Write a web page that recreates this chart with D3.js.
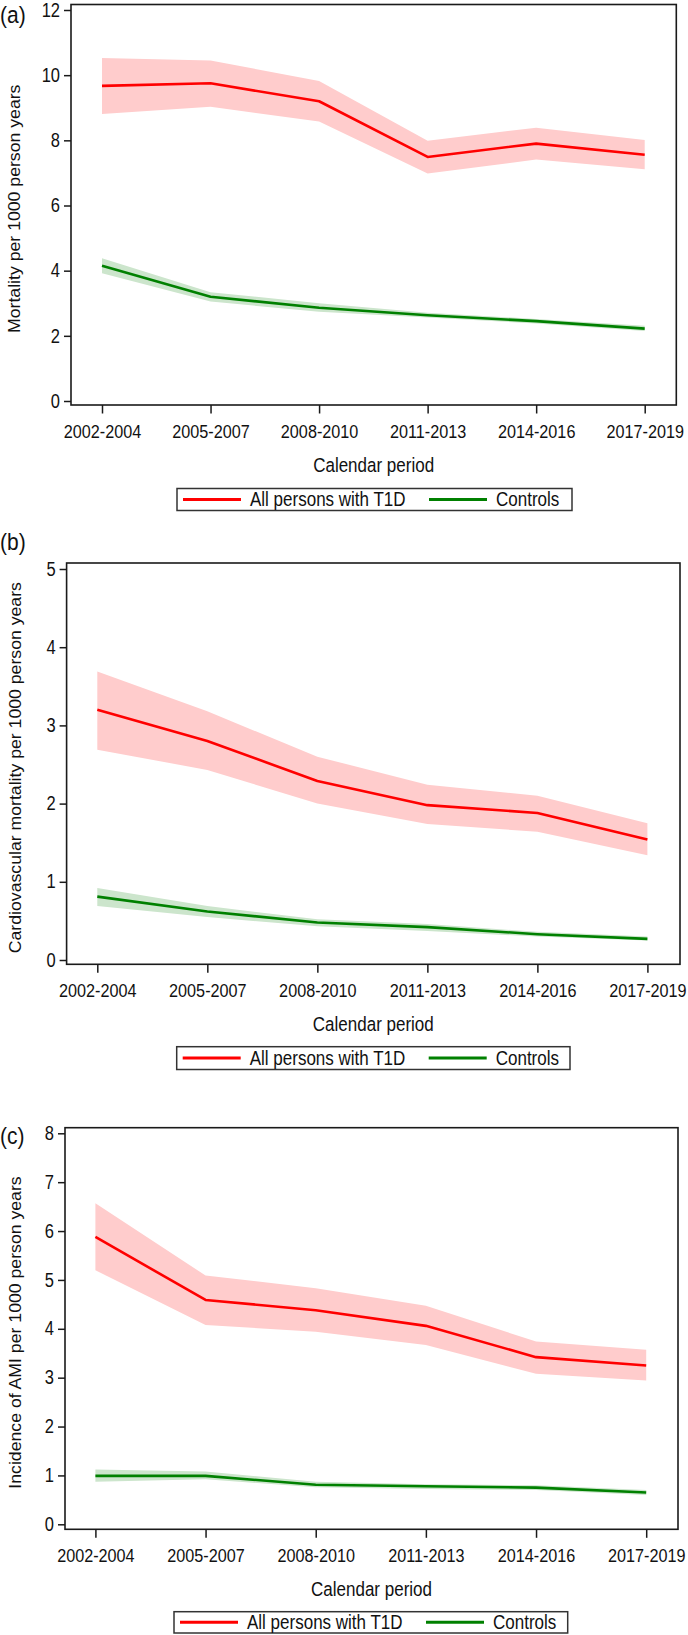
<!DOCTYPE html>
<html>
<head>
<meta charset="utf-8">
<script src="https://cdn.jsdelivr.net/npm/d3@7"></script>
<style>
  html, body { margin: 0; padding: 0; background: #fff; }
  svg { display: block; }
  text { font-family: "Liberation Sans", Arial, sans-serif; fill: #111; }
</style>
</head>
<body>
<svg id="chart" width="688" height="1635"></svg>
<script>
// ---------- DATA ----------
const periods = ["2002-2004", "2005-2007", "2008-2010", "2011-2013", "2014-2016", "2017-2019"];
const seriesNames = ["All persons with T1D", "Controls"];

// (a) All-cause mortality per 1000 person years
const aTicks = [0, 2, 4, 6, 8, 10, 12];
const aT1D    = [9.67, 9.75, 9.20, 7.49, 7.90, 7.56];
const aT1DLo  = [8.81, 9.03, 8.58, 6.98, 7.41, 7.11];
const aT1DHi  = [10.53, 10.45, 9.82, 7.99, 8.39, 8.01];
const aCtrl   = [4.15, 3.20, 2.86, 2.63, 2.45, 2.22];
const aCtrlLo = [3.92, 3.05, 2.74, 2.56, 2.38, 2.15];
const aCtrlHi = [4.38, 3.34, 3.00, 2.71, 2.52, 2.31];

// (b) Cardiovascular mortality per 1000 person years
const bTicks = [0, 1, 2, 3, 4, 5];
const bT1D    = [3.20, 2.80, 2.29, 1.98, 1.88, 1.54];
const bT1DLo  = [2.69, 2.43, 2.00, 1.74, 1.64, 1.34];
const bT1DHi  = [3.69, 3.18, 2.60, 2.24, 2.10, 1.75];
const bCtrl   = [0.81, 0.62, 0.48, 0.42, 0.33, 0.27];
const bCtrlLo = [0.69, 0.55, 0.43, 0.37, 0.30, 0.25];
const bCtrlHi = [0.92, 0.69, 0.52, 0.46, 0.36, 0.30];

// (c) Incidence of AMI per 1000 person years
const cTicks = [0, 1, 2, 3, 4, 5, 6, 7, 8];
const cT1D    = [5.88, 4.59, 4.38, 4.06, 3.42, 3.25];
const cT1DLo  = [5.20, 4.08, 3.94, 3.67, 3.08, 2.94];
const cT1DHi  = [6.57, 5.09, 4.83, 4.47, 3.74, 3.57];
const cCtrl   = [0.99, 0.99, 0.81, 0.78, 0.75, 0.65];
const cCtrlLo = [0.87, 0.92, 0.76, 0.72, 0.70, 0.60];
const cCtrlHi = [1.12, 1.08, 0.87, 0.82, 0.80, 0.70];

const panelLabels = ["(a)", "(b)", "(c)"];
const yTitles = ["Mortality per 1000 person years",
                 "Cardiovascular mortality per 1000 person years",
                 "Incidence of AMI per 1000 person years"];
const xTitle = "Calendar period";

// ---------- STYLE ----------
const RED = "#ff0000", RED_BAND = "#ffcccc";
const GREEN = "#008000", GREEN_BAND = "#cce5cc";
const AXIS = "#1a1a1a";
const SY = 1.17; // vertical stretch of the source text

const svg = d3.select("#chart");

function stretchedText(g, x, y, str, size, anchor) {
  return g.append("text")
    .attr("transform", `translate(${x},${y}) scale(1,${SY})`)
    .attr("text-anchor", anchor || "start")
    .attr("font-size", size).text(str);
}

const panels = [
  { label: panelLabels[0], title: yTitles[0], ticks: aTicks, dom: [0, 12],
    t1d: aT1D, t1dLo: aT1DLo, t1dHi: aT1DHi, ctrl: aCtrl, ctrlLo: aCtrlLo, ctrlHi: aCtrlHi,
    frame: { l: 71, r: 676.3, t: 4.5, b: 405 }, yr: [401, 10], xr: [102, 644.7],
    labelY: 23, titleX: 19.5, legend: { x0: 177, x1: 572, y0: 488.5, y1: 510.5 } },
  { label: panelLabels[1], title: yTitles[1], ticks: bTicks, dom: [0, 5],
    t1d: bT1D, t1dLo: bT1DLo, t1dHi: bT1DHi, ctrl: bCtrl, ctrlLo: bCtrlLo, ctrlHi: bCtrlHi,
    frame: { l: 66.6, r: 680, t: 563, b: 964.3 }, yr: [960, 569], xr: [97.3, 647.4],
    labelY: 550, titleX: 21, legend: { x0: 176.7, x1: 570, y0: 1046.7, y1: 1069.5 } },
  { label: panelLabels[2], title: yTitles[2], ticks: cTicks, dom: [0, 8],
    t1d: cT1D, t1dLo: cT1DLo, t1dHi: cT1DHi, ctrl: cCtrl, ctrlLo: cCtrlLo, ctrlHi: cCtrlHi,
    frame: { l: 65, r: 678, t: 1127.7, b: 1529.3 }, yr: [1524.3, 1133.3], xr: [95.4, 646.2],
    labelY: 1143.5, titleX: 20.7, legend: { x0: 174, x1: 567.7, y0: 1611.7, y1: 1633 } }
];

panels.forEach(p => {
  const g = svg.append("g");
  const x = d3.scalePoint().domain(periods).range(p.xr);
  const y = d3.scaleLinear().domain(p.dom).range(p.yr);
  const idx = d3.range(periods.length);

  const area = (lo, hi) => d3.area()
    .x(i => x(periods[i])).y0(i => y(lo[i])).y1(i => y(hi[i]));
  const line = (v) => d3.line().x(i => x(periods[i])).y(i => y(v[i]));

  // bands
  g.append("path").attr("d", area(p.t1dLo, p.t1dHi)(idx)).attr("fill", RED_BAND);
  g.append("path").attr("d", area(p.ctrlLo, p.ctrlHi)(idx)).attr("fill", GREEN_BAND);
  // lines
  g.append("path").attr("d", line(p.t1d)(idx)).attr("fill", "none")
    .attr("stroke", RED).attr("stroke-width", 2.6).attr("stroke-linejoin", "round");
  g.append("path").attr("d", line(p.ctrl)(idx)).attr("fill", "none")
    .attr("stroke", GREEN).attr("stroke-width", 2.6).attr("stroke-linejoin", "round");

  // frame
  const f = p.frame;
  g.append("rect").attr("x", f.l).attr("y", f.t).attr("width", f.r - f.l).attr("height", f.b - f.t)
    .attr("fill", "none").attr("stroke", AXIS).attr("stroke-width", 1.6);

  // y axis
  const yAxis = d3.axisLeft(y).tickValues(p.ticks).tickFormat(d3.format("d"))
    .tickSizeOuter(0).tickSizeInner(7).tickPadding(4);
  const ya = g.append("g").attr("transform", `translate(${f.l},0)`).call(yAxis);
  ya.select(".domain").remove();
  ya.selectAll(".tick line").attr("stroke", AXIS).attr("stroke-width", 1.5);
  ya.selectAll(".tick text").attr("font-size", 16.5).attr("fill", "#111")
    .attr("font-family", "Liberation Sans, Arial, sans-serif")
    .attr("transform", `scale(1,${SY})`);

  // x axis
  const xAxis = d3.axisBottom(x).tickSizeOuter(0).tickSizeInner(8.5).tickPadding(8);
  const xa = g.append("g").attr("transform", `translate(0,${f.b})`).call(xAxis);
  xa.select(".domain").remove();
  xa.selectAll(".tick line").attr("stroke", AXIS).attr("stroke-width", 1.5);
  xa.selectAll(".tick text").attr("font-size", 16.2).attr("fill", "#111")
    .attr("font-family", "Liberation Sans, Arial, sans-serif")
    .attr("transform", `scale(1,${SY})`);

  // x title
  stretchedText(g, (f.l + f.r) / 2, f.b + 67, xTitle, 17, "middle");

  // y title
  g.append("text")
    .attr("transform", `translate(${p.titleX},${(f.t + f.b) / 2 + 4}) rotate(-90) scale(1.04,1)`)
    .attr("text-anchor", "middle").attr("font-size", 17).text(p.title);

  // panel label
  stretchedText(g, 0, p.labelY, p.label, 21, "start");

  // legend
  const L = p.legend;
  const ly = (L.y0 + L.y1) / 2;
  g.append("rect").attr("x", L.x0).attr("y", L.y0).attr("width", L.x1 - L.x0).attr("height", L.y1 - L.y0)
    .attr("fill", "#fff").attr("stroke", "#333").attr("stroke-width", 1.5);
  const items = [{ name: seriesNames[0], c: RED, lx: L.x0 + 6 }, { name: seriesNames[1], c: GREEN, lx: L.x0 + 252 }];
  items.forEach(it => {
    g.append("line").attr("x1", it.lx).attr("x2", it.lx + 58).attr("y1", ly).attr("y2", ly)
      .attr("stroke", it.c).attr("stroke-width", 3);
    stretchedText(g, it.lx + 67, ly + 6.5, it.name, 17, "start");
  });
});
</script>
</body>
</html>
